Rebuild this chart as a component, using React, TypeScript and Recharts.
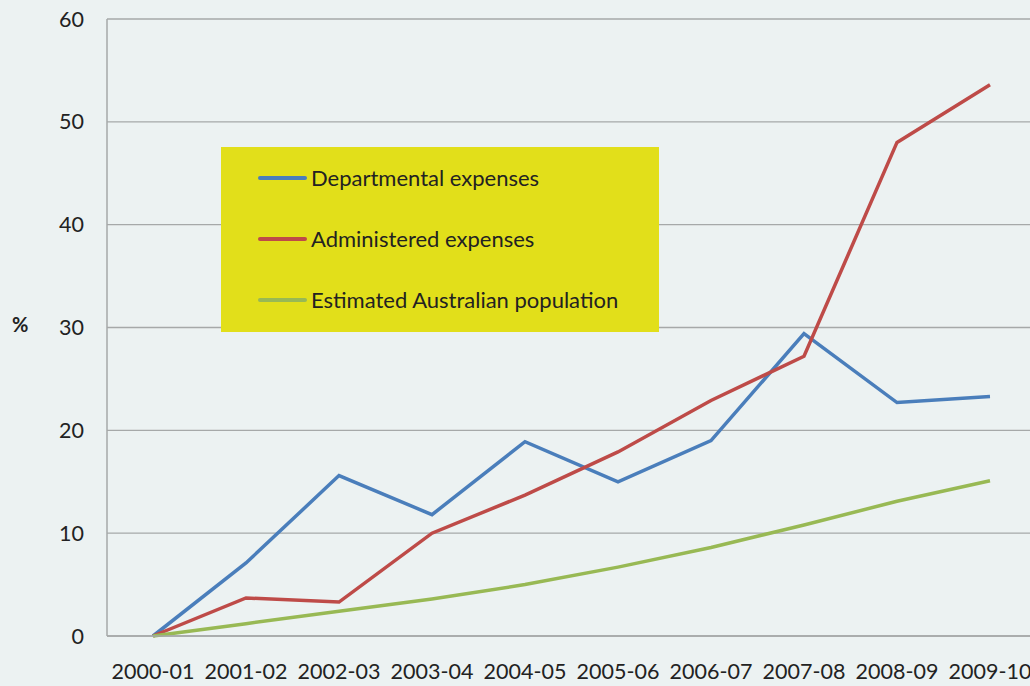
import type { ReactElement } from "react";
import { CartesianGrid, Line, LineChart, XAxis, YAxis } from "recharts";

const years = [
  "2000-01", "2001-02", "2002-03", "2003-04", "2004-05",
  "2005-06", "2006-07", "2007-08", "2008-09", "2009-10",
];
const departmental = [0, 7.1, 15.6, 11.8, 18.9, 15.0, 19.0, 29.4, 22.7, 23.3];
const administered = [0, 3.7, 3.3, 10.0, 13.7, 17.9, 22.9, 27.2, 48.0, 53.6];
const population = [0, 1.2, 2.4, 3.6, 5.0, 6.7, 8.6, 10.8, 13.1, 15.1];
const yTicks = [0, 10, 20, 30, 40, 50, 60];

const BLUE = "#4a7ebb";
const RED = "#be4b48";
const GREEN = "#98b954";
const GRID = "#a6a9a9";
const FONT = "Lato, 'Open Sans', sans-serif";

const series = [
  { key: "departmental", name: "Departmental expenses", color: BLUE },
  { key: "administered", name: "Administered expenses", color: RED },
  { key: "population", name: "Estimated Australian population", color: GREEN },
];

const data = years.map((year, i) => ({
  year,
  departmental: departmental[i],
  administered: administered[i],
  population: population[i],
}));

// legend sits inside the plot as a yellow box, drawn over the chart
function LegendBox(): ReactElement {
  return (
    <div
      style={{
        position: "absolute",
        left: 221,
        top: 147,
        background: "#e2df1a",
        width: 438,
        height: 185,
        boxSizing: "border-box",
        paddingLeft: 37,
        fontFamily: FONT,
        fontSize: 22,
        color: "#222",
      }}
    >
      {series.map((s) => (
        <div key={s.key} style={{ display: "flex", alignItems: "center", height: 61 }}>
          <div style={{ width: 49, height: 4, background: s.color, marginRight: 4, borderRadius: 2 }} />
          <span>{s.name}</span>
        </div>
      ))}
    </div>
  );
}

export default function App(): ReactElement {
  return (
    <div
      style={{
        position: "absolute",
        left: 0,
        top: 0,
        width: 1030,
        height: 686,
        overflow: "hidden",
        background: "#ecf2f2",
        fontFamily: FONT,
      }}
    >
      <div style={{ position: "absolute", left: 12, top: 312, fontSize: 20, fontWeight: 700, color: "#222" }}>%</div>
      <LineChart width={1040} height={686} data={data} margin={{ top: 19, right: 3, left: 0, bottom: 0 }}>
        <CartesianGrid stroke={GRID} strokeWidth={1.3} vertical={false} />
        <XAxis
          dataKey="year"
          height={50}
          padding={{ left: 46, right: 47 }}
          stroke={GRID}
          strokeWidth={1.5}
          tickLine={false}
          tickSize={0}
          tickMargin={28}
          interval={0}
          tick={{ fill: "#222", fontSize: 21.5, fontFamily: FONT }}
        />
        <YAxis
          width={107}
          domain={[0, 60]}
          ticks={yTicks}
          stroke={GRID}
          strokeWidth={1.5}
          tickLine={false}
          tickSize={0}
          tickMargin={23}
          tick={{ fill: "#222", fontSize: 21.5, fontFamily: FONT }}
        />
        {series.map((s) => (
          <Line
            key={s.key}
            dataKey={s.key}
            name={s.name}
            stroke={s.color}
            strokeWidth={3.5}
            dot={false}
            type="linear"
            isAnimationActive={false}
          />
        ))}
      </LineChart>
      <LegendBox />
    </div>
  );
}
